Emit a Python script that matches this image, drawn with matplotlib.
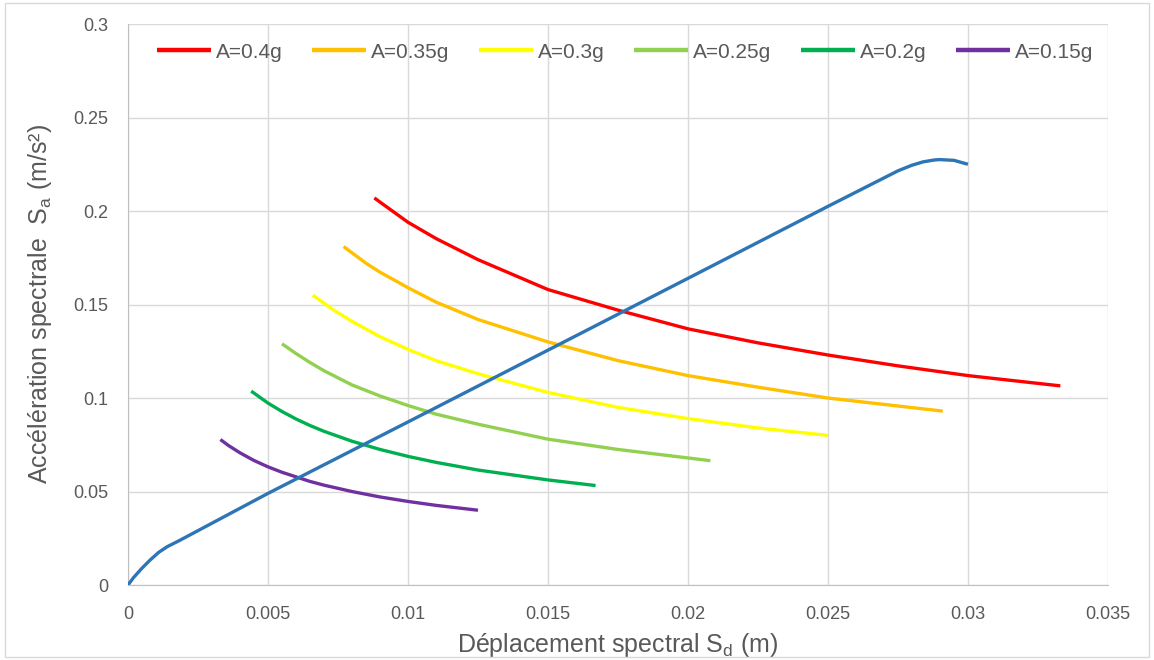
import matplotlib
matplotlib.use("Agg")
import matplotlib.pyplot as plt
from matplotlib.patches import Rectangle

# capacity curve (blue)
cap_x = [0, 0.0002, 0.0005, 0.0008, 0.0011, 0.0014, 0.0018, 0.005, 0.01,
         0.015, 0.02, 0.025, 0.0275, 0.028, 0.0284, 0.0288, 0.029, 0.0295, 0.030]
cap_y = [0, 0.004, 0.009, 0.0135, 0.0175, 0.0205, 0.0235, 0.049, 0.0872,
         0.1256, 0.164, 0.2025, 0.2215, 0.2245, 0.2263, 0.2273, 0.2275, 0.2271, 0.2250]

# demand spectra
labels = ["A=0.4g", "A=0.35g", "A=0.3g", "A=0.25g", "A=0.2g", "A=0.15g"]
colors = ["#FF0000", "#FFC000", "#FFFF00", "#92D050", "#00B050", "#7030A0"]
dem_x = [
    [0.0088, 0.009, 0.010, 0.011, 0.0125, 0.015, 0.0175, 0.020, 0.0225, 0.025,
     0.0275, 0.030, 0.0333],
    [0.0077, 0.0085, 0.009, 0.010, 0.011, 0.0125, 0.015, 0.0175, 0.020, 0.0225,
     0.025, 0.0291],
    [0.0066, 0.0073, 0.008, 0.009, 0.010, 0.011, 0.0125, 0.015, 0.0175, 0.020,
     0.0225, 0.025],
    [0.0055, 0.006, 0.0065, 0.007, 0.008, 0.009, 0.010, 0.011, 0.0125, 0.015,
     0.0175, 0.0208],
    [0.0044, 0.005, 0.0055, 0.006, 0.0065, 0.007, 0.008, 0.009, 0.010, 0.011,
     0.0125, 0.015, 0.0167],
    [0.0033, 0.0036, 0.004, 0.0045, 0.005, 0.0055, 0.0065, 0.007, 0.008, 0.009,
     0.010, 0.011, 0.0125],
]
dem_y = [
    [0.207, 0.2048, 0.194, 0.1853, 0.174, 0.158, 0.147, 0.137, 0.1295, 0.123,
     0.1172, 0.112, 0.1065],
    [0.181, 0.1721, 0.1673, 0.159, 0.1513, 0.142, 0.130, 0.120, 0.112, 0.1058,
     0.100, 0.093],
    [0.155, 0.1475, 0.141, 0.1328, 0.126, 0.120, 0.113, 0.103, 0.095, 0.089,
     0.084, 0.080],
    [0.129, 0.1238, 0.119, 0.1146, 0.107, 0.1011, 0.096, 0.0914, 0.086, 0.078,
     0.0725, 0.0665],
    [0.1037, 0.0973, 0.0928, 0.0888, 0.0853, 0.0822, 0.0769, 0.0725, 0.0688,
     0.0656, 0.0615, 0.0562, 0.0532],
    [0.0778, 0.0745, 0.0707, 0.0666, 0.0632, 0.0603, 0.0554, 0.0534, 0.050,
     0.0471, 0.0447, 0.0426, 0.040],
]

x_ticks = [0, 0.005, 0.01, 0.015, 0.02, 0.025, 0.03, 0.035]
x_ticklabels = ["0", "0.005", "0.01", "0.015", "0.02", "0.025", "0.03", "0.035"]
y_ticks = [0, 0.05, 0.1, 0.15, 0.2, 0.25, 0.3]
y_ticklabels = ["0", "0.05", "0.1", "0.15", "0.2", "0.25", "0.3"]

plt.rcParams["font.family"] = ["Liberation Sans", "DejaVu Sans"]
txt = "#595959"

fig = plt.figure(figsize=(11.54, 6.60), dpi=100)
fig.patches.append(Rectangle((0.004, 0.004), 0.992, 0.992, transform=fig.transFigure,
                             fill=False, edgecolor="#D9D9D9", linewidth=1))
ax = fig.add_axes([0.1109, 0.1136, 0.8492, 0.85])

for xs, ys, c, lab in zip(dem_x, dem_y, colors, labels):
    ax.plot(xs, ys, color=c, lw=2.4, label=lab, solid_capstyle="butt", zorder=3)
ax.plot(cap_x, cap_y, color="#2E75B6", lw=2.4, zorder=4, solid_capstyle="butt")

ax.set_xlim(0, 0.035)
ax.set_ylim(0, 0.3)
ax.set_xticks(x_ticks)
ax.set_xticklabels(x_ticklabels)
ax.set_yticks(y_ticks)
ax.set_yticklabels(y_ticklabels)
ax.tick_params(length=0, labelsize=13, labelcolor=txt)
ax.tick_params(axis="y", pad=14)
ax.tick_params(axis="x", pad=15)
ax.grid(True, color="#D9D9D9", lw=1)
ax.set_axisbelow(True)
for s in ["top", "right"]:
    ax.spines[s].set_visible(False)
for s in ["left", "bottom"]:
    ax.spines[s].set_color("#BFBFBF")

ax.set_xlabel("Déplacement spectral S$_\\mathregular{d}$ (m)", fontsize=18, color=txt,
              labelpad=6)
ax.set_ylabel("Accélération spectrale  S$_\\mathregular{a}$ (m/s²)", fontsize=18,
              color=txt, labelpad=14)

leg = ax.legend(loc="upper left", bbox_to_anchor=(0.01, 1.0), ncol=6, frameon=False,
                fontsize=15, handlelength=2.6, columnspacing=1.4, handletextpad=0.25,
                labelcolor=txt)
for h in leg.get_lines():
    h.set_linewidth(3.2)

fig.savefig("out.png", dpi=100, facecolor="white")
